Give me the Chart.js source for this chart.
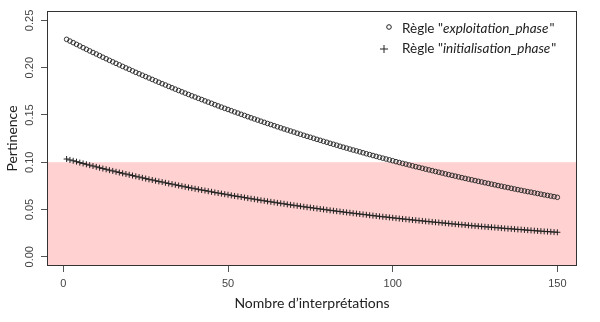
<!DOCTYPE html>
<html><head><meta charset="utf-8">
<script src="https://cdn.jsdelivr.net/npm/chart.js@4/dist/chart.umd.min.js"></script>
<style>html,body{margin:0;padding:0;background:#fff}#wrap{width:600px;height:322px;position:relative}</style>
</head><body><div id="wrap"><canvas id="c" width="600" height="322"></canvas></div>
<script>
// Values
const exploitation = [
0.2300,0.2282,0.2265,0.2247,0.2230,0.2212,0.2195,0.2178,0.2161,0.2145,
0.2128,0.2111,0.2095,0.2078,0.2062,0.2046,0.2030,0.2014,0.1998,0.1983,
0.1967,0.1951,0.1936,0.1921,0.1906,0.1891,0.1876,0.1861,0.1846,0.1831,
0.1817,0.1802,0.1788,0.1773,0.1759,0.1745,0.1731,0.1717,0.1703,0.1690,
0.1676,0.1663,0.1649,0.1636,0.1623,0.1609,0.1596,0.1583,0.1570,0.1558,
0.1545,0.1532,0.1520,0.1507,0.1495,0.1482,0.1470,0.1458,0.1446,0.1434,
0.1422,0.1410,0.1399,0.1387,0.1375,0.1364,0.1352,0.1341,0.1330,0.1319,
0.1307,0.1296,0.1285,0.1274,0.1264,0.1253,0.1242,0.1232,0.1221,0.1211,
0.1200,0.1190,0.1180,0.1169,0.1159,0.1149,0.1139,0.1129,0.1120,0.1110,
0.1100,0.1090,0.1081,0.1071,0.1062,0.1052,0.1043,0.1034,0.1025,0.1016,
0.1006,0.0997,0.0988,0.0980,0.0971,0.0962,0.0953,0.0945,0.0936,0.0927,
0.0919,0.0911,0.0902,0.0894,0.0886,0.0877,0.0869,0.0861,0.0853,0.0845,
0.0837,0.0829,0.0821,0.0814,0.0806,0.0798,0.0791,0.0783,0.0776,0.0768,
0.0761,0.0753,0.0746,0.0739,0.0732,0.0724,0.0717,0.0710,0.0703,0.0696,
0.0689,0.0683,0.0676,0.0669,0.0662,0.0655,0.0649,0.0642,0.0636,0.0629];
const initialisation = [
0.1034,0.1024,0.1015,0.1006,0.0996,0.0987,0.0978,0.0969,0.0960,0.0951,
0.0942,0.0933,0.0925,0.0916,0.0908,0.0899,0.0891,0.0883,0.0875,0.0867,
0.0859,0.0851,0.0843,0.0835,0.0827,0.0819,0.0812,0.0804,0.0797,0.0790,
0.0782,0.0775,0.0768,0.0761,0.0754,0.0747,0.0740,0.0733,0.0726,0.0719,
0.0713,0.0706,0.0700,0.0693,0.0687,0.0680,0.0674,0.0668,0.0662,0.0656,
0.0649,0.0643,0.0638,0.0632,0.0626,0.0620,0.0614,0.0609,0.0603,0.0597,
0.0592,0.0586,0.0581,0.0576,0.0570,0.0565,0.0560,0.0554,0.0549,0.0544,
0.0539,0.0534,0.0529,0.0524,0.0520,0.0515,0.0510,0.0505,0.0501,0.0496,
0.0491,0.0487,0.0482,0.0478,0.0473,0.0469,0.0465,0.0460,0.0456,0.0452,
0.0448,0.0444,0.0439,0.0435,0.0431,0.0427,0.0423,0.0420,0.0416,0.0412,
0.0408,0.0404,0.0400,0.0397,0.0393,0.0389,0.0386,0.0382,0.0379,0.0375,
0.0372,0.0368,0.0365,0.0362,0.0358,0.0355,0.0352,0.0348,0.0345,0.0342,
0.0339,0.0336,0.0332,0.0329,0.0326,0.0323,0.0320,0.0317,0.0314,0.0312,
0.0309,0.0306,0.0303,0.0300,0.0297,0.0295,0.0292,0.0289,0.0287,0.0284,
0.0281,0.0279,0.0276,0.0273,0.0271,0.0268,0.0266,0.0264,0.0261,0.0259];
const interpretations = exploitation.map((_, i) => i + 1);
const xTicks = [0, 50, 100, 150];
const yTicks = [0, 0.05, 0.10, 0.15, 0.20, 0.25];
const threshold = 0.10;
const seriesNames = ['exploitation_phase', 'initialisation_phase'];
const xTitle = 'Nombre d\u2019interprétations';
const yTitle = 'Pertinence';

const toPoints = arr => arr.map((v, i) => ({x: interpretations[i], y: v}));

const decor = {
  id: 'decor',
  beforeDatasetsDraw(chart) {
    const {ctx, chartArea: a, scales: {y}} = chart;
    const top = y.getPixelForValue(threshold);
    ctx.save();
    ctx.fillStyle = '#ffd1d1';
    ctx.fillRect(a.left, top, a.right - a.left, a.bottom - top);
    ctx.restore();
  },
  afterDraw(chart) {
    const {ctx, chartArea: a} = chart;
    ctx.save();
    ctx.strokeStyle = '#333';
    ctx.lineWidth = 1;
    ctx.strokeRect(Math.round(a.left) + 0.5, Math.round(a.top) + 0.5, Math.round(a.right - a.left) - 1, Math.round(a.bottom - a.top) - 1);
    // legend
    const fam = 'Lato, "Open Sans", sans-serif';
    const rows = [{name: seriesNames[0], y: 29, sym: 'circle'}, {name: seriesNames[1], y: 49, sym: 'plus'}];
    rows.forEach(r => {
      ctx.strokeStyle = '#222';
      ctx.lineWidth = 1;
      if (r.sym === 'circle') {
        ctx.beginPath(); ctx.arc(389, r.y - 2, 2.3, 0, Math.PI * 2); ctx.stroke();
      } else {
        ctx.beginPath(); ctx.moveTo(380, r.y); ctx.lineTo(388, r.y); ctx.moveTo(384, r.y - 4); ctx.lineTo(384, r.y + 4); ctx.stroke();
      }
      ctx.fillStyle = '#222';
      ctx.textBaseline = 'middle';
      ctx.textAlign = 'left';
      let x = 402;
      ctx.font = '13.5px ' + fam;
      const p1 = 'Règle "';
      ctx.fillText(p1, x, r.y); x += ctx.measureText(p1).width;
      ctx.font = 'italic 13.5px ' + fam;
      ctx.fillText(r.name, x, r.y); x += ctx.measureText(r.name).width;
      ctx.font = '13.5px ' + fam;
      ctx.fillText('"', x + 1, r.y);
    });
    ctx.restore();
  }
};

new Chart(document.getElementById('c'), {
  type: 'scatter',
  data: {
    datasets: [
      {label: seriesNames[0], data: toPoints(exploitation), pointStyle: 'circle', pointRadius: 2.3,
       borderColor: '#222', backgroundColor: 'rgba(0,0,0,0)', borderWidth: 0.9, showLine: false},
      {label: seriesNames[1], data: toPoints(initialisation), pointStyle: 'cross', pointRadius: 3,
       borderColor: '#222', backgroundColor: '#222', borderWidth: 1, showLine: false}
    ]
  },
  plugins: [decor],
  options: {
    responsive: false, animation: false, devicePixelRatio: 1,
    layout: {padding: {top: 11, right: 23, left: 0, bottom: 0}},
    plugins: {legend: {display: false}, tooltip: {enabled: false}},
    scales: {
      x: {
        type: 'linear', min: -4.96, max: 155.96,
        afterBuildTicks: s => { s.ticks = xTicks.map(v => ({value: v})); },
        afterFit: s => { s.height = 56; },
        grid: {drawOnChartArea: false, drawTicks: true, tickLength: 6, color: '#555'},
        border: {display: false},
        ticks: {color: '#444', font: {family: '"Liberation Sans", Arial, sans-serif', size: 11}, padding: 5, maxRotation: 0, callback: v => String(v)},
        title: {display: true, text: xTitle, color: '#222', font: {family: 'Lato, "Open Sans", sans-serif', size: 14}, padding: {top: 0, bottom: 10}}
      },
      y: {
        type: 'linear', min: -0.0098, max: 0.26,
        afterBuildTicks: s => { s.ticks = yTicks.map(v => ({value: v})); },
        afterFit: s => { s.width = 47; },
        grid: {drawOnChartArea: false, drawTicks: true, tickLength: 6, color: '#555'},
        border: {display: false},
        ticks: {color: '#444', font: {family: '"Liberation Sans", Arial, sans-serif', size: 11}, padding: 0, minRotation: 90, maxRotation: 90, crossAlign: 'center', callback: v => v.toFixed(2)},
        title: {display: true, text: yTitle, color: '#222', font: {family: 'Lato, "Open Sans", sans-serif', size: 14}, padding: {top: 4, bottom: 0}}
      }
    }
  }
});
</script></body></html>
